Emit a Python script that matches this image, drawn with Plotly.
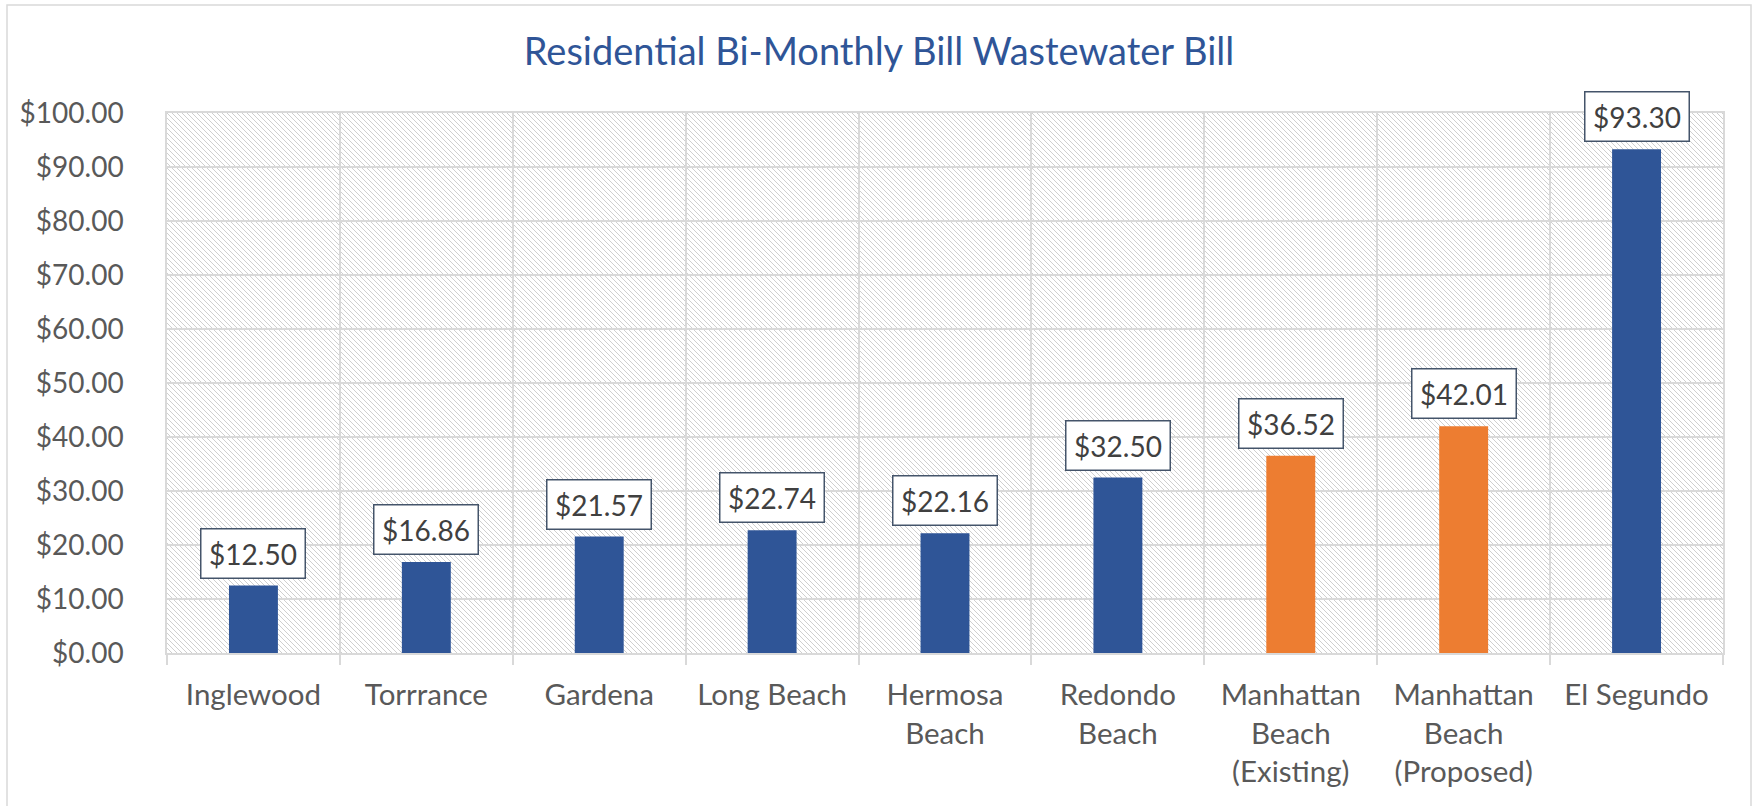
import plotly.graph_objects as go
import urllib.parse

# ---- data ----
categories = ["Inglewood", "Torrrance", "Gardena", "Long Beach", "Hermosa<br>Beach",
              "Redondo<br>Beach", "Manhattan<br>Beach<br>(Existing)",
              "Manhattan<br>Beach<br>(Proposed)", "El Segundo"]
values = [12.50, 16.86, 21.57, 22.74, 22.16, 32.50, 36.52, 42.01, 93.30]
highlighted = [False, False, False, False, False, False, True, True, False]
title_text = "Residential Bi-Monthly Bill Wastewater Bill"

BLUE = "#2F5597"
ORANGE = "#ED7D31"
GRID = "#D9D9D9"
TEXT = "#595959"
FONT = "Lato"

W, H = 1758, 806
L, R, T, B = 167, 35, 113, 153
PW, PH = W - L - R, H - T - B

colors = [ORANGE if h else BLUE for h in highlighted]

fig = go.Figure()
fig.add_trace(go.Bar(
    x=categories, y=values, marker=dict(color=colors, line=dict(width=0)),
    width=0.283, hoverinfo="x+y",
))

# data labels
for c, v in zip(categories, values):
    fig.add_annotation(
        x=c, y=v, text=f"${v:.2f}", showarrow=False, yanchor="bottom",
        yshift=7, font=dict(family=FONT, size=28, color="#404040"),
        bgcolor="white", bordercolor="#44546A", borderwidth=1.5, borderpad=1,
        width=101, height=46,
    )

# hatched plot background as an svg image
svg = (f'<svg xmlns="http://www.w3.org/2000/svg" width="{PW}" height="{PH}" '
       f'viewBox="0 0 {PW} {PH}" preserveAspectRatio="none">'
       '<defs><pattern id="p" patternUnits="userSpaceOnUse" width="5" height="5">'
       '<path d="M-1,-1 L6,6 M-1,4 L1,6 M4,-1 L6,1" stroke="#CFCFCF" stroke-width="1"/>'
       '</pattern></defs>'
       f'<rect width="{PW}" height="{PH}" fill="white"/>'
       f'<rect width="{PW}" height="{PH}" fill="url(#p)"/></svg>')
fig.add_layout_image(
    source="data:image/svg+xml;charset=utf-8," + urllib.parse.quote(svg),
    xref="paper", yref="paper", x=0, y=1, sizex=1, sizey=1,
    xanchor="left", yanchor="top", sizing="stretch", layer="below",
)

# outer chart frame
fig.add_shape(type="rect", xref="paper", yref="paper",
              x0=(7 - L) / PW, x1=(1751 - L) / PW,
              y0=-(H + 20 - (T + PH)) / PH, y1=(T + PH - 5) / PH,
              line=dict(color=GRID, width=1.5), fillcolor="rgba(0,0,0,0)", layer="below")

fig.update_layout(
    width=W, height=H,
    margin=dict(l=L, r=R, t=T, b=B, autoexpand=False),
    paper_bgcolor="white", plot_bgcolor="rgba(0,0,0,0)",
    showlegend=False,
    title=dict(text=title_text, x=0.5, xref="container", y=1 - 52 / H, yref="container",
               xanchor="center", yanchor="middle",
               font=dict(family=FONT, size=38, color=BLUE)),
    font=dict(family=FONT, size=28, color=TEXT),
)
fig.update_xaxes(
    type="category", tickson="boundaries", showgrid=True, gridcolor=GRID, gridwidth=1.5,
    ticks="outside", ticklen=10, tickcolor=GRID, tickwidth=1.5,
    showline=True, linecolor=GRID, linewidth=1.5, mirror=True,
    tickfont=dict(family=FONT, size=29.5, color=TEXT), ticklabelstandoff=15,
    range=[-0.5, len(categories) - 0.5],
)
fig.update_yaxes(
    range=[0, 100], dtick=10, tickprefix="$", tickformat=".2f",
    showgrid=True, gridcolor=GRID, gridwidth=1.5, zeroline=False,
    showline=True, linecolor=GRID, linewidth=1.5, mirror=True,
    ticks="", tickfont=dict(family=FONT, size=28, color=TEXT), ticklabelstandoff=36,
)

fig.write_html("out.html", config={"displayModeBar": False},
               post_script="document.body.style.margin='0';")
